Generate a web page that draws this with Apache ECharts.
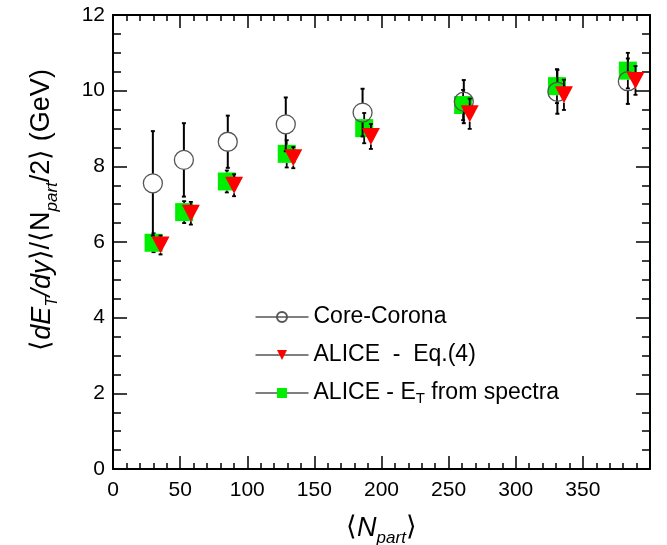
<!DOCTYPE html>
<html>
<head>
<meta charset="utf-8">
<script src="https://cdn.jsdelivr.net/npm/echarts@6/dist/echarts.min.js"></script>
<style>
html,body{margin:0;padding:0;background:#fff;}
#chart{width:667px;height:545px;}
</style>
</head>
<body>
<div id="chart"></div>
<script>
// ---- data ----
const xTicks = [0, 50, 100, 150, 200, 250, 300, 350];
const yTicks = [0, 2, 4, 6, 8, 10, 12];

// Core-Corona (open circles)
const npartCC = [29.7, 52.8, 85.5, 128.7, 185.9, 261.3, 331.0, 383.5];
const etCC    = [7.55, 8.17, 8.65, 9.11, 9.42, 9.71, 9.97, 10.25];
const errCC   = [1.38, 0.97, 0.69, 0.71, 0.63, 0.57, 0.58, 0.60];

// ALICE - Eq.(4) (red down triangles)
const npartEq = [35.4, 58.0, 90.2, 134.3, 192.1, 265.7, 335.9, 389.2];
const etEq    = [5.92, 6.76, 7.50, 8.23, 8.79, 9.39, 9.89, 10.27];
const errEq   = [0.25, 0.30, 0.29, 0.28, 0.33, 0.40, 0.40, 0.38];

// ALICE - E_T from spectra (green squares)
const npartSp = [30.2, 53.0, 84.8, 129.4, 187.1, 260.8, 330.7, 383.5];
const etSp    = [5.98, 6.79, 7.60, 8.33, 9.01, 9.62, 10.12, 10.53];
const errSp   = [0.25, 0.29, 0.29, 0.36, 0.40, 0.40, 0.45, 0.47];

const nameCC = 'Core-Corona';
const nameEq = 'ALICE  -  Eq.(4)';
const nameSp = 'ALICE - ET from spectra';

// ---- helpers ----
const FONT = 'Liberation Sans, Arial, Helvetica, sans-serif';
function pts(xs, ys) { return xs.map((x, i) => [x, ys[i]]); }
function errData(xs, ys, es) { return xs.map((x, i) => [x, ys[i] - es[i], ys[i] + es[i], ys[i]]); }

function errRender(gap, cap, width) {
  return function (params, api) {
    const x = api.value(0), lo = api.value(1), hi = api.value(2), y = api.value(3);
    const pHi = api.coord([x, hi]);
    const pLo = api.coord([x, lo]);
    const pC = api.coord([x, y]);
    const st = { stroke: '#000', lineWidth: width };
    const ch = [];
    if (pHi[1] < pC[1] - gap) ch.push({ type: 'line', shape: { x1: pHi[0], y1: pHi[1], x2: pC[0], y2: pC[1] - gap }, style: st });
    if (pLo[1] > pC[1] + gap) ch.push({ type: 'line', shape: { x1: pLo[0], y1: pLo[1], x2: pC[0], y2: pC[1] + gap }, style: st });
    ch.push({ type: 'line', shape: { x1: pHi[0] - cap, y1: pHi[1], x2: pHi[0] + cap, y2: pHi[1] }, style: st });
    ch.push({ type: 'line', shape: { x1: pLo[0] - cap, y1: pLo[1], x2: pLo[0] + cap, y2: pLo[1] }, style: st });
    return { type: 'group', children: ch };
  };
}

const axisLineStyle = { color: '#000', width: 2 };
const tickStyle = { color: '#000', width: 1.5 };

function xAxisCfg(pos, showLabels) {
  return {
    type: 'value', min: 0, max: 400, interval: 50, position: pos,
    axisLine: { show: true, onZero: false, lineStyle: axisLineStyle },
    axisTick: { show: true, inside: true, length: 13, lineStyle: tickStyle },
    minorTick: { show: true, splitNumber: 5, length: 6, lineStyle: tickStyle },
    splitLine: { show: false }, minorSplitLine: { show: false },
    axisLabel: {
      show: showLabels, fontSize: 21, color: '#000', fontFamily: FONT, margin: 11,
      formatter: v => (xTicks.indexOf(v) >= 0 ? String(v) : '')
    }
  };
}
function yAxisCfg(pos, showLabels) {
  return {
    type: 'value', min: 0, max: 12, interval: 2, position: pos,
    axisLine: { show: true, onZero: false, lineStyle: axisLineStyle },
    axisTick: { show: true, inside: true, length: 14, lineStyle: tickStyle },
    minorTick: { show: true, splitNumber: 4, length: 8, lineStyle: tickStyle },
    splitLine: { show: false }, minorSplitLine: { show: false },
    axisLabel: {
      show: showLabels, fontSize: 21, color: '#000', fontFamily: FONT, margin: 8,
      formatter: v => (yTicks.indexOf(v) >= 0 ? String(v) : '')
    }
  };
}

const titleRich = {
  n:   { fontSize: 27, fontFamily: FONT, color: '#000', lineHeight: 38 },
  it:  { fontSize: 27, fontFamily: FONT, color: '#000', fontStyle: 'italic', lineHeight: 38 },
  sub: { fontSize: 17, fontFamily: FONT, color: '#000', fontStyle: 'italic', lineHeight: 17, verticalAlign: 'bottom' }
};

const xA = xAxisCfg('bottom', true);
xA.name = '{n|⟨}{it|N}{sub|part}{n|⟩}';
xA.nameLocation = 'middle';
xA.nameGap = 40;
xA.nameTextStyle = { rich: titleRich };

const yA = yAxisCfg('left', true);
yA.name = '{n|⟨}{it|dE}{sub|T}{it|/dy}{n|⟩/⟨N}{sub|part}{n|/2⟩ (GeV)}';
yA.nameLocation = 'middle';
yA.nameGap = 52;
yA.nameTextStyle = { rich: titleRich, padding: [0, 0, 0, 64] };

const xTop = xAxisCfg('top', false);
const yRight = yAxisCfg('right', false);

const option = {
  animation: false,
  backgroundColor: '#fff',
  grid: { left: 113, right: 17, top: 15, bottom: 76, containLabel: false, outerBoundsMode: 'none' },
  xAxis: [xA, xTop],
  yAxis: [yA, yRight],
  legend: {
    orient: 'vertical', left: 255, top: 304, padding: 0,
    itemWidth: 53, itemHeight: 12.5, itemGap: 12,
    selectedMode: false,
    data: [nameCC, nameEq, nameSp],
    lineStyle: { color: '#000', width: 1, opacity: 1, type: 'solid' },
    textStyle: {
      fontSize: 23, fontFamily: FONT, color: '#000', lineHeight: 26,
      rich: {
        m: { fontSize: 23, fontFamily: FONT, color: '#000', lineHeight: 26 },
        s: { fontSize: 15, fontFamily: FONT, color: '#000', lineHeight: 15, verticalAlign: 'bottom' }
      }
    },
    formatter: function (name) {
      if (name === nameSp) return '{m|ALICE - E}{s|T}{m| from spectra}';
      return name;
    }
  },
  series: [
    {
      type: 'custom', name: 'errSp', renderItem: errRender(9, 2, 1.8),
      data: errData(npartSp, etSp, errSp), encode: { x: 0, y: [1, 2] }, z: 2, silent: true
    },
    {
      type: 'line', name: nameSp, data: pts(npartSp, etSp),
      symbol: 'rect', symbolSize: 18, showAllSymbol: true,
      lineStyle: { opacity: 0 }, itemStyle: { color: '#00ee00', borderWidth: 0 },
      z: 3, silent: true
    },
    {
      type: 'custom', name: 'errCC', renderItem: errRender(9.5, 2, 2),
      data: errData(npartCC, etCC, errCC), encode: { x: 0, y: [1, 2] }, z: 4, silent: true
    },
    {
      type: 'line', name: nameCC, data: pts(npartCC, etCC),
      symbol: 'circle', symbolSize: 19, showAllSymbol: true,
      lineStyle: { opacity: 0 },
      itemStyle: { color: 'rgba(255,255,255,0)', borderColor: '#555', borderWidth: 1.3 },
      z: 5, silent: true
    },
    {
      type: 'custom', name: 'errEq', renderItem: errRender(8, 2, 1.8),
      data: errData(npartEq, etEq, errEq), encode: { x: 0, y: [1, 2] }, z: 6, silent: true
    },
    {
      type: 'line', name: nameEq, data: pts(npartEq, etEq),
      symbol: 'triangle', symbolRotate: 180, symbolSize: [18, 17], showAllSymbol: true,
      lineStyle: { opacity: 0 }, itemStyle: { color: '#ff0000', borderWidth: 0 },
      z: 7, silent: true
    }
  ]
};

const chart = echarts.init(document.getElementById('chart'), null, { renderer: 'canvas' });
chart.setOption(option);
</script>
</body>
</html>
